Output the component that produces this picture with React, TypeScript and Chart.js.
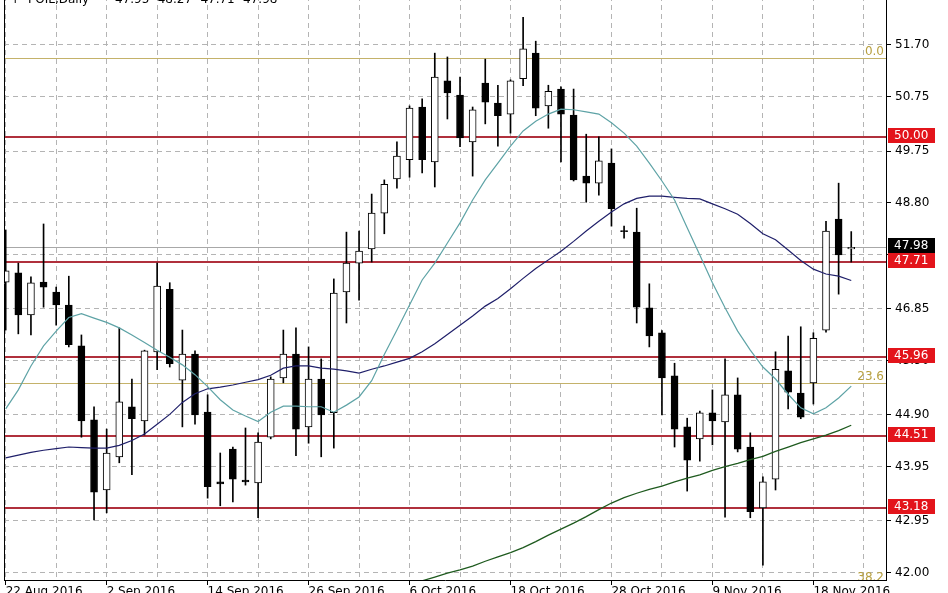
import { useEffect, useRef } from 'react';
import { Chart, registerables } from 'chart.js';

Chart.register(...registerables);

const dates = [
  '22 Aug 2016', '23 Aug 2016', '24 Aug 2016', '25 Aug 2016', '26 Aug 2016', '30 Aug 2016', '31 Aug 2016', '1 Sep 2016', '2 Sep 2016', '5 Sep 2016',
  '6 Sep 2016', '7 Sep 2016', '8 Sep 2016', '9 Sep 2016', '12 Sep 2016', '13 Sep 2016', '14 Sep 2016', '15 Sep 2016', '16 Sep 2016', '19 Sep 2016',
  '20 Sep 2016', '21 Sep 2016', '22 Sep 2016', '23 Sep 2016', '26 Sep 2016', '27 Sep 2016', '28 Sep 2016', '29 Sep 2016', '30 Sep 2016', '3 Oct 2016',
  '4 Oct 2016', '5 Oct 2016', '6 Oct 2016', '7 Oct 2016', '10 Oct 2016', '11 Oct 2016', '12 Oct 2016', '13 Oct 2016', '14 Oct 2016', '17 Oct 2016',
  '18 Oct 2016', '19 Oct 2016', '20 Oct 2016', '21 Oct 2016', '24 Oct 2016', '25 Oct 2016', '26 Oct 2016', '27 Oct 2016', '28 Oct 2016', '31 Oct 2016',
  '1 Nov 2016', '2 Nov 2016', '3 Nov 2016', '4 Nov 2016', '7 Nov 2016', '8 Nov 2016', '9 Nov 2016', '10 Nov 2016', '11 Nov 2016', '13 Nov 2016',
  '14 Nov 2016', '15 Nov 2016', '16 Nov 2016', '17 Nov 2016', '18 Nov 2016', '21 Nov 2016', '22 Nov 2016', '23 Nov 2016',
];

const opens = [
  47.34, 47.51, 46.74, 47.34, 47.16, 46.92, 46.17, 44.81, 43.52, 44.13,
  45.05, 44.79, 46.06, 47.21, 45.54, 46.02, 44.95, 43.67, 44.27, 43.70,
  43.65, 44.49, 45.58, 46.02, 44.68, 45.56, 44.94, 47.16, 47.69, 47.95,
  48.61, 49.24, 49.59, 50.56, 49.55, 51.04, 50.78, 49.92, 51.00, 50.63,
  50.43, 51.08, 51.55, 50.58, 50.89, 50.41, 49.29, 49.16, 49.53, 48.28,
  48.26, 46.87, 46.41, 45.62, 44.68, 44.46, 44.94, 44.77, 45.27, 44.31,
  43.19, 43.72, 45.71, 45.30, 45.49, 46.46, 48.50, 47.95,
];
const highs = [
  48.30, 47.69, 47.44, 48.41, 47.25, 47.45, 46.37, 45.05, 44.64, 46.50,
  45.56, 46.09, 47.69, 47.33, 46.46, 46.08, 45.27, 44.20, 44.31, 44.66,
  44.57, 45.60, 46.46, 46.50, 46.15, 45.93, 47.40, 48.26, 48.28, 48.96,
  49.22, 49.92, 50.58, 50.71, 51.55, 51.48, 51.11, 50.56, 51.44, 50.96,
  51.06, 52.21, 51.77, 50.96, 50.93, 50.89, 50.06, 50.01, 49.79, 48.37,
  48.70, 47.31, 46.45, 45.85, 44.84, 44.97, 45.36, 45.93, 45.58, 44.57,
  43.76, 46.06, 46.35, 46.52, 46.41, 48.46, 49.16, 48.27,
];
const lows = [
  46.46, 46.39, 46.37, 46.88, 46.55, 46.15, 44.49, 42.97, 43.10, 44.02,
  43.80, 44.53, 45.73, 45.78, 44.68, 44.73, 43.37, 43.23, 43.30, 43.61,
  43.01, 44.46, 45.49, 44.15, 44.38, 44.13, 44.29, 46.59, 47.01, 47.71,
  48.23, 49.07, 49.27, 49.35, 49.09, 50.34, 49.83, 49.29, 50.25, 49.84,
  50.08, 50.95, 50.40, 50.17, 49.55, 49.20, 48.81, 48.94, 48.37, 48.15,
  46.59, 46.15, 44.90, 44.31, 43.50, 44.05, 44.35, 43.02, 44.22, 43.01,
  42.14, 43.52, 45.01, 44.83, 45.10, 46.42, 47.12, 47.71,
];
const closes = [
  47.55, 46.74, 47.33, 47.25, 46.92, 46.19, 44.79, 43.48, 44.20, 45.14,
  44.83, 46.08, 47.27, 45.84, 46.02, 44.90, 43.58, 43.63, 43.72, 43.67,
  44.40, 45.56, 46.02, 44.64, 45.56, 44.90, 47.14, 47.69, 47.91, 48.61,
  49.14, 49.66, 50.54, 49.59, 51.11, 50.82, 49.99, 50.51, 50.65, 50.40,
  51.04, 51.63, 50.54, 50.85, 50.43, 49.22, 49.16, 49.57, 48.69, 48.27,
  46.88, 46.35, 45.58, 44.64, 44.07, 44.94, 44.79, 45.27, 44.27, 43.12,
  43.67, 45.74, 45.32, 44.86, 46.31, 48.28, 47.84, 47.98,
];

// moving averages
const maFast = [
  45.01, 45.36, 45.80, 46.17, 46.44, 46.69, 46.76, 46.68, 46.60, 46.50,
  46.37, 46.23, 46.09, 45.96, 45.82, 45.64, 45.42, 45.18, 44.99, 44.88,
  44.78, 44.95, 45.06, 45.06, 45.05, 45.05, 44.95, 45.08, 45.23, 45.53,
  46.01, 46.46, 46.92, 47.38, 47.69, 48.06, 48.43, 48.85, 49.22, 49.53,
  49.84, 50.12, 50.30, 50.43, 50.52, 50.51, 50.47, 50.43, 50.27, 50.08,
  49.84, 49.53, 49.20, 48.85, 48.34, 47.84, 47.33, 46.87, 46.44, 46.09,
  45.78, 45.56, 45.28, 45.03, 44.92, 45.03, 45.21, 45.43,
];
const maMid = [
  44.11, 44.16, 44.21, 44.25, 44.28, 44.31, 44.30, 44.29, 44.29, 44.34,
  44.43, 44.55, 44.73, 44.91, 45.13, 45.29, 45.38, 45.41, 45.45, 45.50,
  45.55, 45.63, 45.76, 45.80, 45.80, 45.76, 45.74, 45.71, 45.67, 45.74,
  45.80, 45.87, 45.94, 46.06, 46.21, 46.38, 46.55, 46.72, 46.90, 47.04,
  47.22, 47.41, 47.59, 47.75, 47.91, 48.09, 48.28, 48.46, 48.63, 48.78,
  48.88, 48.92, 48.92, 48.90, 48.88, 48.87, 48.78, 48.69, 48.59, 48.42,
  48.23, 48.12, 47.93, 47.74, 47.58, 47.49, 47.45, 47.37,
];
const maSlowStart = 32;
const maSlow = [
  41.77, 41.85, 41.92, 41.99, 42.05, 42.12, 42.21, 42.29, 42.37, 42.46,
  42.57, 42.69, 42.80, 42.91, 43.03, 43.16, 43.28, 43.38, 43.46, 43.53,
  43.59, 43.67, 43.74, 43.80, 43.88, 43.95, 44.01, 44.08, 44.14, 44.23,
  44.31, 44.39, 44.46, 44.53, 44.61, 44.71,
];

const yTicks = [51.70, 50.75, 49.75, 48.80, 47.85, 46.85, 45.90, 44.90, 43.95, 42.95, 42.00];
const xTicks = [0, 4, 8, 12, 16, 20, 24, 28, 32, 36, 40, 44, 48, 52, 56, 60, 64, 68];
const xLabelEvery = 8;

const levels = [50.00, 47.71, 45.96, 44.51, 43.18];
const fibNames = ['0.0', '23.6', '38.2'];
const fibValues = [51.46, 45.49, 41.80];
const lastPrice = 47.98;
const symbolName = 'POIL,Daily';
const headerValues = [47.95, 48.27, 47.71, 47.98];

const FONT = '"DejaVu Sans", sans-serif';
const GRID = '#b4b4b4';

export default function App() {
  const canvasRef = useRef<HTMLCanvasElement | null>(null);

  useEffect(() => {
    const canvas = canvasRef.current;
    if (!canvas) return;
    const idx = opens.map((_, i) => i);
    const wickData = idx.map((i) => ({ x: i, y: [lows[i], highs[i]] }));
    const bodyData = idx.map((i) => ({ x: i, y: [opens[i], closes[i]] }));
    const bodyFill = idx.map((i) => (closes[i] > opens[i] ? '#ffffff' : '#000000'));
    const pts = (arr: number[], start = 0) => arr.map((v, i) => ({ x: i + start, y: v }));

    const overlay = {
      id: 'overlay',
      beforeDatasetsDraw(chart: any) {
        const { ctx, chartArea: a, scales } = chart;
        const y = scales.y;
        ctx.save();
        ctx.beginPath();
        ctx.rect(a.left, a.top, a.right - a.left, a.bottom - a.top);
        ctx.clip();
        ctx.setLineDash([]);
        const line = (py: number, color: string, w: number) => {
          ctx.beginPath();
          ctx.strokeStyle = color;
          ctx.lineWidth = w;
          ctx.moveTo(a.left, py);
          ctx.lineTo(a.right, py);
          ctx.stroke();
        };
        line(Math.round(y.getPixelForValue(lastPrice)) + 0.5, '#a8a8a8', 1);
        fibValues.forEach((v) => line(Math.round(y.getPixelForValue(v)) + 0.5, '#c4b26a', 1));
        levels.forEach((v) => line(Math.round(y.getPixelForValue(v)), '#b0303c', 2));
        ctx.restore();
      },
      afterDraw(chart: any) {
        const { ctx, chartArea: a, scales } = chart;
        const y = scales.y;
        ctx.save();
        ctx.setLineDash([]);
        ctx.strokeStyle = '#000';
        ctx.lineWidth = 1;
        ctx.beginPath();
        ctx.moveTo(a.left + 0.5, a.top);
        ctx.lineTo(a.left + 0.5, a.bottom);
        ctx.moveTo(a.left, a.top + 0.5);
        ctx.lineTo(a.right, a.top + 0.5);
        ctx.stroke();

        ctx.font = `12px ${FONT}`;
        ctx.fillStyle = '#000';
        ctx.textAlign = 'left';
        ctx.textBaseline = 'alphabetic';
        ctx.fillText('\u2191', 10, 17);
        ctx.fillText(symbolName, 28, 17);
        headerValues.forEach((v, k) => ctx.fillText(v.toFixed(2), 115 + k * 42.7, 17));

        ctx.save();
        ctx.beginPath();
        ctx.rect(a.left, a.top, a.right - a.left, a.bottom - a.top);
        ctx.clip();
        ctx.fillStyle = '#b8a040';
        ctx.textAlign = 'right';
        fibValues.forEach((v, k) => {
          const py = Math.round(y.getPixelForValue(v));
          ctx.fillText(fibNames[k], a.right - 2, py - 3);
        });
        ctx.restore();

        const box = (v: number, bg: string) => {
          const py = Math.round(y.getPixelForValue(v));
          ctx.fillStyle = bg;
          ctx.fillRect(a.right + 2, py - 9, 47, 15);
          ctx.fillStyle = '#fff';
          ctx.textAlign = 'left';
          ctx.textBaseline = 'middle';
          ctx.fillText(v.toFixed(2), a.right + 8, py - 1.5);
        };
        box(lastPrice, '#000000');
        levels.forEach((v) => box(v, '#e3141b'));
        ctx.restore();
      },
    };

    const chart = new Chart(canvas, {
      type: 'bar',
      data: {
        datasets: [
          {
            type: 'line',
            data: pts(maFast),
            borderColor: '#5ea3a6',
            borderWidth: 1.2,
            pointRadius: 0,
            order: 1,
          } as any,
          {
            type: 'line',
            data: pts(maMid),
            borderColor: '#1f1f6a',
            borderWidth: 1.2,
            pointRadius: 0,
            order: 1,
          } as any,
          {
            type: 'line',
            data: pts(maSlow, maSlowStart),
            borderColor: '#1e5a1e',
            borderWidth: 1.3,
            pointRadius: 0,
            clip: 0,
            order: 1,
          } as any,
          {
            type: 'bar',
            data: bodyData,
            backgroundColor: bodyFill,
            borderColor: '#000000',
            borderWidth: 1,
            borderSkipped: false,
            barThickness: 7,
            minBarLength: 1,
            grouped: false,
            order: 2,
          } as any,
          {
            type: 'bar',
            data: wickData,
            backgroundColor: '#000000',
            borderWidth: 0,
            barThickness: 1,
            grouped: false,
            order: 3,
          } as any,
        ],
      },
      options: {
        responsive: false,
        animation: false,
        devicePixelRatio: 1,
        layout: { padding: { left: 4, top: 1, right: 0, bottom: 0 } },
        plugins: { legend: { display: false }, tooltip: { enabled: false } },
        scales: {
          x: {
            type: 'linear',
            min: -0.1347,
            max: 69.754,
            offset: false,
            afterBuildTicks: (s: any) => {
              s.ticks = xTicks.map((v) => ({ value: v }));
            },
            afterFit: (s: any) => {
              s.height = 20;
              s.paddingLeft = 0;
              s.paddingRight = 0;
            },
            grid: {
              offset: false,
              color: (c: any) => (c.tick && c.tick.value % 4 === 0 ? GRID : 'rgba(0,0,0,0)'),
              lineWidth: 1,
              tickLength: 5,
              tickWidth: 1,
              tickBorderDash: [],
              tickColor: (c: any) => (c.tick && c.tick.value % xLabelEvery === 0 ? '#000' : 'rgba(0,0,0,0)'),
            },
            border: { display: true, color: '#000', width: 1, dash: [5, 4] },
            ticks: {
              autoSkip: false,
              maxRotation: 0,
              minRotation: 0,
              align: 'start',
              padding: 0,
              color: '#000',
              font: { family: FONT, size: 12 },
              callback: (v: any) => (Number(v) % xLabelEvery === 0 ? dates[Number(v)] ?? '' : ''),
            },
          } as any,
          y: {
            type: 'linear',
            position: 'right',
            min: 41.8654,
            max: 52.766,
            afterBuildTicks: (s: any) => {
              s.ticks = yTicks.map((v) => ({ value: v }));
            },
            afterFit: (s: any) => {
              s.width = 62;
              s.paddingTop = 0;
              s.paddingBottom = 0;
            },
            grid: {
              color: GRID,
              lineWidth: 1,
              tickLength: 5,
              tickWidth: 1,
              tickBorderDash: [],
              tickColor: '#000',
            },
            border: { display: true, color: '#000', width: 1, dash: [5, 4] },
            ticks: {
              padding: 4,
              color: '#000',
              font: { family: FONT, size: 12 },
              callback: (v: any) => Number(v).toFixed(2),
            },
          } as any,
        },
      },
      plugins: [overlay],
    } as any);

    return () => chart.destroy();
  }, []);

  return (
    <div style={{ position: 'fixed', left: 0, top: -14, width: 948, height: 614, background: '#fff' }}>
      <canvas ref={canvasRef} width={948} height={614} style={{ display: 'block', width: 948, height: 614 }} />
    </div>
  );
}
